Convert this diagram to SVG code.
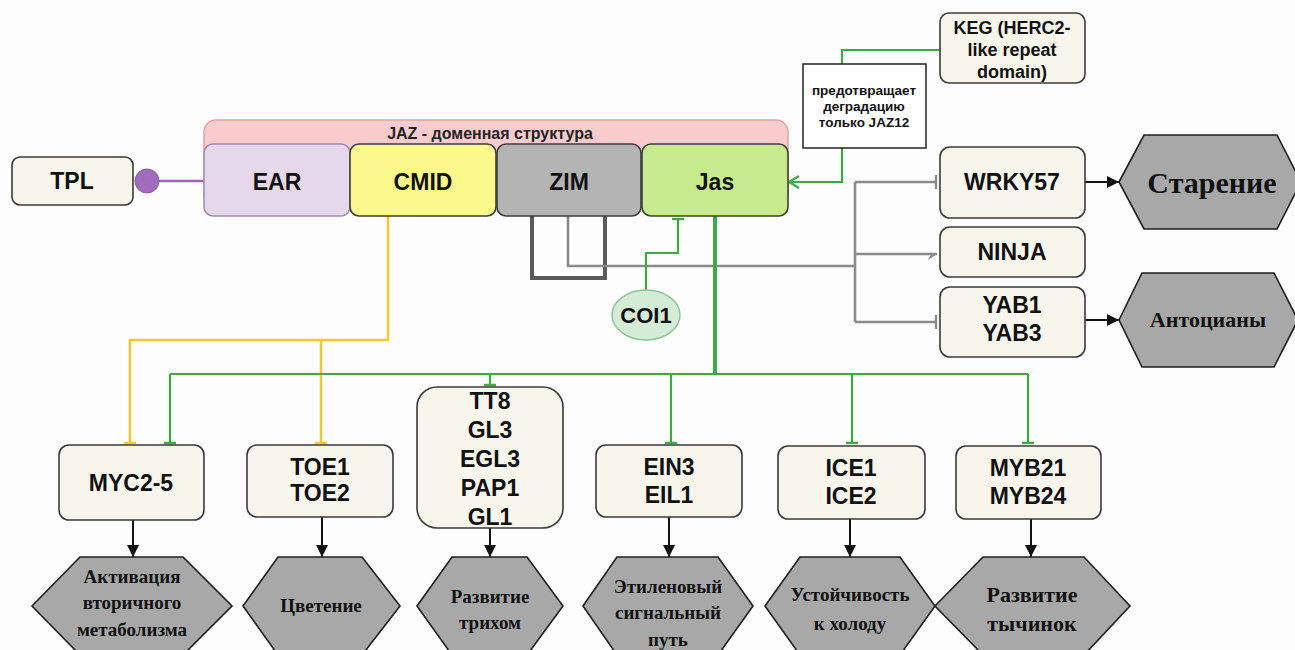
<svg xmlns="http://www.w3.org/2000/svg" width="1295" height="650" viewBox="0 0 1295 650">
  <style>
    .box { fill: #f8f5ec; stroke: #3a3a3a; stroke-width: 1.6; }
    .lbl { font-family: "Liberation Sans", Arial, sans-serif; font-weight: bold; font-size: 23px; fill: #111; text-anchor: middle; }
    .hex { fill: #a8a8a8; stroke: #1e1e1e; stroke-width: 1.6; }
    .hlbl { font-family: "Liberation Serif", "Times New Roman", serif; font-weight: bold; font-size: 19px; fill: #111; text-anchor: middle; }
    .dom { stroke: #3c3c3c; stroke-width: 1.6; }
    .green { stroke: #3faa45; stroke-width: 2.2; fill: none; }
    .yellow { stroke: #f4c838; stroke-width: 2.6; fill: none; }
    .gray { stroke: #8a8a8a; stroke-width: 2.6; fill: none; }
    .black { stroke: #111; stroke-width: 2; fill: none; }
  </style>
  <defs>
    <marker id="arrow-black" viewBox="0 0 12 12" refX="12" refY="6" markerWidth="12" markerHeight="12" markerUnits="userSpaceOnUse" orient="auto">
      <path d="M0,0 L12,6 L0,12 z" fill="#111"/>
    </marker>
    <marker id="arrow-green" viewBox="0 0 12 14" refX="11" refY="7" markerWidth="12" markerHeight="14" markerUnits="userSpaceOnUse" orient="auto">
      <path d="M1,1 L11,7 L1,13" fill="none" stroke="#3faa45" stroke-width="2.2"/>
    </marker>
    <marker id="arrow-gray" viewBox="0 0 10 12" refX="9" refY="6" markerWidth="10" markerHeight="12" markerUnits="userSpaceOnUse" orient="auto">
      <path d="M0,12 L9,6 L3,6 z" fill="#8a8a8a"/>
    </marker>
    <marker id="tee-green" viewBox="0 0 4 12" refX="3" refY="6" markerWidth="4" markerHeight="12" markerUnits="userSpaceOnUse" orient="auto">
      <path d="M2,0 V12" stroke="#3faa45" stroke-width="2.4"/>
    </marker>
    <marker id="tee-yellow" viewBox="0 0 4 12" refX="3" refY="6" markerWidth="4" markerHeight="12" markerUnits="userSpaceOnUse" orient="auto">
      <path d="M2,0 V12" stroke="#f4c838" stroke-width="2.4"/>
    </marker>
    <marker id="tee-gray" viewBox="0 0 4 14" refX="3" refY="7" markerWidth="4" markerHeight="14" markerUnits="userSpaceOnUse" orient="auto">
      <path d="M2,0 V14" stroke="#8a8a8a" stroke-width="2.4"/>
    </marker>
  </defs>

  <rect x="0" y="0" width="1295" height="650" fill="#fdfdfd"/>

  <!-- connectors -->
  <g id="connectors">
    <!-- TPL binds EAR -->
    <line x1="158" y1="181" x2="205" y2="181" stroke="#9a68b0" stroke-width="2.5"/>
    <!-- ZIM self loop -->
    <path d="M532,216 V278 H605 V216" fill="none" stroke="#5a5a5a" stroke-width="4"/>
    <!-- ZIM to NINJA / WRKY57 / YAB -->
    <path class="gray" d="M568,216 V266 H855"/>
    <path class="gray" d="M855,182 V322"/>
    <path class="gray" d="M855,182 H937" marker-end="url(#tee-gray)"/>
    <path class="gray" d="M855,254 H937" marker-end="url(#arrow-gray)"/>
    <path class="gray" d="M855,322 H937" marker-end="url(#tee-gray)"/>
    <!-- CMID to MYC2-5 and TOE -->
    <path class="yellow" d="M388,216 V340 H130 V444" marker-end="url(#tee-yellow)"/>
    <path class="yellow" d="M321,340 V444" marker-end="url(#tee-yellow)"/>
    <!-- Jas to transcription factors -->
    <path d="M715,216 V374" stroke="#3faa45" stroke-width="4" fill="none"/>
    <path class="green" d="M170,374 H1028"/>
    <path class="green" d="M170,374 V444" marker-end="url(#tee-green)"/>
    <path class="green" d="M490,374 V386" marker-end="url(#tee-green)"/>
    <path class="green" d="M671,374 V444" marker-end="url(#tee-green)"/>
    <path class="green" d="M852,374 V444" marker-end="url(#tee-green)"/>
    <path class="green" d="M1028,374 V444" marker-end="url(#tee-green)"/>
    <!-- COI1 to Jas -->
    <path class="green" d="M646,290 V253 H678 V218" marker-end="url(#tee-green)"/>
    <!-- KEG via note to Jas -->
    <path class="green" d="M940,50 H842 V64"/>
    <path class="green" d="M842,148 V182 H789" marker-end="url(#arrow-green)"/>
    <!-- outcomes -->
    <path class="black" d="M1085,182 H1119" marker-end="url(#arrow-black)"/>
    <path class="black" d="M1085,320 H1119" marker-end="url(#arrow-black)"/>
    <path class="black" d="M133,520 V557" marker-end="url(#arrow-black)"/>
    <path class="black" d="M322,517 V557" marker-end="url(#arrow-black)"/>
    <path class="black" d="M490,528 V557" marker-end="url(#arrow-black)"/>
    <path class="black" d="M669,517 V557" marker-end="url(#arrow-black)"/>
    <path class="black" d="M850,518 V557" marker-end="url(#arrow-black)"/>
    <path class="black" d="M1031,518 V557" marker-end="url(#arrow-black)"/>
  </g>

  <!-- TPL -->
  <g id="tpl">
    <rect class="box" x="12" y="157" width="121" height="48" rx="8"/>
    <text class="lbl" x="72" y="189">TPL</text>
    <circle cx="147" cy="181" r="12" fill="#a26cbc" stroke="#8a58a4" stroke-width="1"/>
  </g>

  <!-- JAZ domain structure -->
  <g id="jaz">
    <rect x="204" y="120" width="584" height="86" rx="12" fill="#f8cccc" stroke="#e2a2a2" stroke-width="1.5"/>
    <text x="490" y="139" font-family="Liberation Sans, Arial, sans-serif" font-weight="bold" font-size="16px" fill="#222" text-anchor="middle">JAZ - доменная структура</text>
  </g>
  <g id="ear">
    <rect x="204" y="144" width="146" height="72" rx="9" fill="#e7d7eb" stroke="#a08cab" stroke-width="1.5"/>
    <text class="lbl" x="277" y="190">EAR</text>
  </g>
  <g id="cmid">
    <rect class="dom" x="350" y="144" width="146" height="72" rx="9" fill="#fbf98c"/>
    <text class="lbl" x="423" y="190">CMID</text>
  </g>
  <g id="zim">
    <rect class="dom" x="497" y="144" width="144" height="72" rx="9" fill="#b4b4b4"/>
    <text class="lbl" x="569" y="190">ZIM</text>
  </g>
  <g id="jas">
    <rect class="dom" x="642" y="144" width="146" height="72" rx="9" fill="#c6ea8c"/>
    <text class="lbl" x="715" y="190">Jas</text>
  </g>

  <!-- KEG -->
  <g id="keg">
    <rect class="box" x="940" y="13" width="145" height="70" rx="9"/>
    <text class="lbl" style="font-size:18px" x="1012" y="34">KEG (HERC2-</text>
    <text class="lbl" style="font-size:18px" x="1012" y="56">like repeat</text>
    <text class="lbl" style="font-size:18px" x="1012" y="78">domain)</text>
  </g>
  <g id="note">
    <rect x="803" y="64" width="123" height="84" fill="#fff" stroke="#222" stroke-width="1.5"/>
    <text class="lbl" style="font-size:13.5px" x="864" y="95">предотвращает</text>
    <text class="lbl" style="font-size:13.5px" x="864" y="111">деградацию</text>
    <text class="lbl" style="font-size:13.5px" x="864" y="127">только JAZ12</text>
  </g>

  <!-- COI1 -->
  <g id="coi1">
    <ellipse cx="646" cy="315" rx="34" ry="25" fill="#d4ecd6" stroke="#8cc698" stroke-width="1.5"/>
    <text class="lbl" style="font-size:22px" x="646" y="323">COI1</text>
  </g>

  <!-- right side targets -->
  <g id="wrky57">
    <rect class="box" x="940" y="147" width="145" height="71" rx="10"/>
    <text class="lbl" x="1012" y="190">WRKY57</text>
  </g>
  <g id="ninja">
    <rect class="box" x="940" y="227" width="145" height="50" rx="10"/>
    <text class="lbl" x="1012" y="260">NINJA</text>
  </g>
  <g id="yab">
    <rect class="box" x="940" y="287" width="145" height="70" rx="10"/>
    <text class="lbl" x="1012" y="313">YAB1</text>
    <text class="lbl" x="1012" y="341">YAB3</text>
  </g>
  <g id="senescence">
    <polygon class="hex" points="1119,182 1144,135 1277,135 1301,182 1277,229 1144,229"/>
    <text class="hlbl" style="font-size:30px" x="1212" y="193">Старение</text>
  </g>
  <g id="anthocyanins">
    <polygon class="hex" points="1119,320 1142,273 1274,273 1298,320 1274,367 1142,367"/>
    <text class="hlbl" style="font-size:22px" x="1208" y="327">Антоцианы</text>
  </g>

  <!-- bottom targets -->
  <g id="myc">
    <rect class="box" x="59" y="445" width="145" height="75" rx="10"/>
    <text class="lbl" x="131" y="491">MYC2-5</text>
  </g>
  <g id="toe">
    <rect class="box" x="247" y="445" width="146" height="72" rx="10"/>
    <text class="lbl" x="320" y="475">TOE1</text>
    <text class="lbl" x="320" y="501">TOE2</text>
  </g>
  <g id="tt8">
    <rect class="box" x="417" y="387" width="146" height="141" rx="20"/>
    <text class="lbl" x="490" y="409">TT8</text>
    <text class="lbl" x="490" y="438">GL3</text>
    <text class="lbl" x="490" y="467">EGL3</text>
    <text class="lbl" x="490" y="496">PAP1</text>
    <text class="lbl" x="490" y="525">GL1</text>
  </g>
  <g id="ein">
    <rect class="box" x="596" y="445" width="146" height="72" rx="10"/>
    <text class="lbl" x="669" y="475">EIN3</text>
    <text class="lbl" x="669" y="503">EIL1</text>
  </g>
  <g id="ice">
    <rect class="box" x="778" y="446" width="147" height="73" rx="10"/>
    <text class="lbl" x="851" y="476">ICE1</text>
    <text class="lbl" x="851" y="504">ICE2</text>
  </g>
  <g id="myb">
    <rect class="box" x="956" y="446" width="145" height="73" rx="10"/>
    <text class="lbl" x="1028" y="476">MYB21</text>
    <text class="lbl" x="1028" y="504">MYB24</text>
  </g>

  <!-- outcomes -->
  <g id="metabolism">
    <polygon class="hex" points="32,606 80,557 183,557 232,606 183,655 80,655"/>
    <text class="hlbl" x="132" y="583">Активация</text>
    <text class="hlbl" x="132" y="609">вторичного</text>
    <text class="hlbl" x="132" y="636">метаболизма</text>
  </g>
  <g id="flowering">
    <polygon class="hex" points="243,606 278,557 362,557 400,606 362,655 278,655"/>
    <text class="hlbl" x="321" y="612">Цветение</text>
  </g>
  <g id="trichomes">
    <polygon class="hex" points="417,606 452,557 527,557 563,606 527,655 452,655"/>
    <text class="hlbl" x="490" y="603">Развитие</text>
    <text class="hlbl" x="490" y="629">трихом</text>
  </g>
  <g id="ethylene">
    <polygon class="hex" points="583,606 617,557 718,557 753,606 718,655 617,655"/>
    <text class="hlbl" x="668" y="593">Этиленовый</text>
    <text class="hlbl" x="668" y="619">сигнальный</text>
    <text class="hlbl" x="668" y="646">путь</text>
  </g>
  <g id="cold">
    <polygon class="hex" points="765,606 800,557 900,557 935,606 900,655 800,655"/>
    <text class="hlbl" x="850" y="601">Устойчивость</text>
    <text class="hlbl" x="850" y="630">к холоду</text>
  </g>
  <g id="stamens">
    <polygon class="hex" points="935,606 983,557 1084,557 1130,606 1084,655 983,655"/>
    <text class="hlbl" style="font-size:22px" x="1032" y="602">Развитие</text>
    <text class="hlbl" style="font-size:22px" x="1032" y="631">тычинок</text>
  </g>
</svg>
